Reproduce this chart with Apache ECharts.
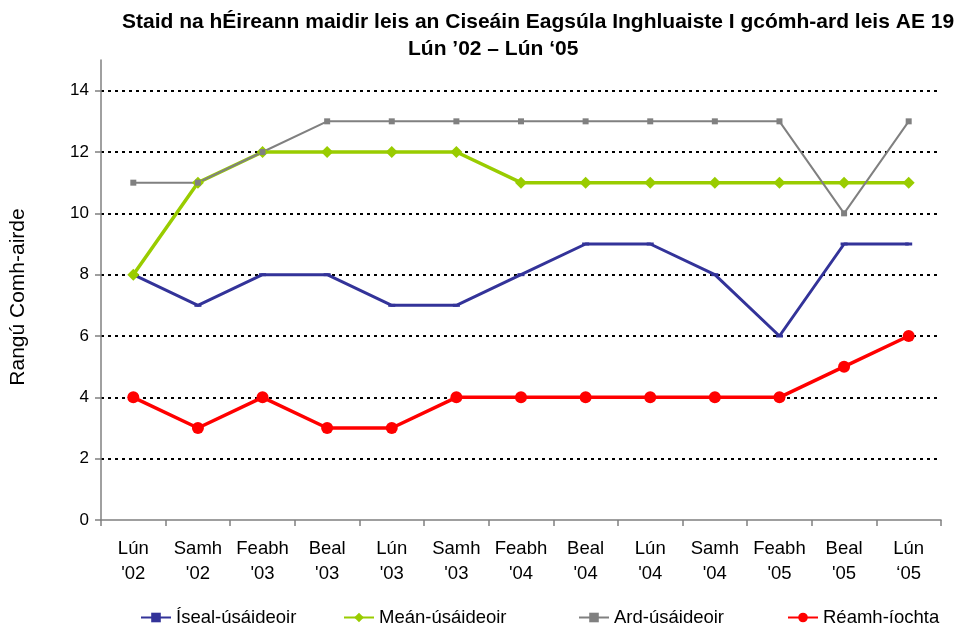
<!DOCTYPE html>
<html>
<head>
<meta charset="utf-8">
<script src="https://cdn.jsdelivr.net/npm/echarts@6/dist/echarts.min.js"></script>
<style>
html, body { margin: 0; padding: 0; background: #fff; }
#chart { width: 958px; height: 628px; }
</style>
</head>
<body>
<div id="chart"></div>
<script>
// miondealú ar chatagóirí agus ar luachanna
var categories = ["Lún\n'02", "Samh\n'02", "Feabh\n'03", "Beal\n'03", "Lún\n'03", "Samh\n'03",
    "Feabh\n'04", "Beal\n'04", "Lún\n'04", "Samh\n'04", "Feabh\n'05", "Beal\n'05", "Lún\n\u201805"];
var seriesNames = ['Íseal-úsáideoir', 'Meán-úsáideoir', 'Ard-úsáideoir', 'Réamh-íochta'];
var iseal = [8, 7, 8, 8, 7, 7, 8, 9, 9, 8, 6, 9, 9];
var mean = [8, 11, 12, 12, 12, 12, 11, 11, 11, 11, 11, 11, 11];
var ard = [11, 11, 12, 13, 13, 13, 13, 13, 13, 13, 13, 10, 13];
var reamh = [4, 3, 4, 3, 3, 4, 4, 4, 4, 4, 4, 5, 6];
var yMin = 0, yMax = 15, yStep = 2;

var font = 'Liberation Sans, Arial, sans-serif';
var legendLefts = [140, 343, 578, 787];

var chart = echarts.init(document.getElementById('chart'));
var option = {
    backgroundColor: '#ffffff',
    animation: false,
    title: [{
        text: 'Staid na hÉireann maidir leis an Ciseáin Eagsúla Inghluaiste I gcómh-ard leis AE 19',
        left: 117,
        top: 7,
        textStyle: { fontFamily: font, fontSize: 21, fontWeight: 'bold', color: '#000' }
    }, {
        text: 'Lún \u201902 \u2013 Lún \u201805',
        left: 403,
        top: 34,
        textStyle: { fontFamily: font, fontSize: 21, fontWeight: 'bold', color: '#000' }
    }],
    // one legend per entry, like the spaced-out columns of the original
    legend: seriesNames.map(function (name, i) {
        return {
            top: 608,
            left: legendLefts[i],
            padding: 0,
            itemWidth: 30,
            itemHeight: 12,
            textStyle: { fontFamily: font, fontSize: 18.5, color: '#000' },
            data: [name]
        };
    }),
    grid: { left: 101, right: 17, top: 60, bottom: 108 },
    xAxis: {
        type: 'category',
        data: categories,
        boundaryGap: true,
        axisLine: { lineStyle: { color: '#808080', width: 1.5 } },
        axisTick: { show: true, length: 6, lineStyle: { color: '#808080', width: 1.5 } },
        axisLabel: {
            interval: 0,
            margin: 16,
            lineHeight: 25,
            fontFamily: font,
            fontSize: 18.5,
            color: '#000'
        }
    },
    yAxis: {
        type: 'value',
        min: yMin,
        max: yMax,
        interval: yStep,
        name: 'Rangú Comh-airde',
        nameLocation: 'middle',
        nameGap: 72,
        nameTextStyle: { fontFamily: font, fontSize: 21, color: '#000', padding: [0, 14, 0, 0] },
        axisLine: { show: true, lineStyle: { color: '#808080', width: 1.5 } },
        axisTick: { show: true, length: 6, lineStyle: { color: '#808080', width: 1.5 } },
        axisLabel: {
            margin: 12,
            fontFamily: font,
            fontSize: 17,
            color: '#000',
            showMaxLabel: false
        },
        splitLine: {
            show: true,
            showMinLine: false,
            showMaxLine: false,
            lineStyle: { color: '#000', width: 2, type: [3, 4] }
        }
    },
    series: [{
        name: seriesNames[0],
        type: 'line',
        data: iseal,
        symbol: 'rect',
        symbolSize: [7, 3],
        lineStyle: { color: '#333399', width: 3 },
        itemStyle: { color: '#333399' }
    }, {
        name: seriesNames[1],
        type: 'line',
        data: mean,
        symbol: 'diamond',
        symbolSize: 12,
        lineStyle: { color: '#99CC00', width: 3.5 },
        itemStyle: { color: '#99CC00' }
    }, {
        name: seriesNames[2],
        type: 'line',
        data: ard,
        symbol: 'rect',
        symbolSize: 6,
        lineStyle: { color: '#808080', width: 2 },
        itemStyle: { color: '#808080' }
    }, {
        name: seriesNames[3],
        type: 'line',
        data: reamh,
        symbol: 'circle',
        symbolSize: 12,
        lineStyle: { color: '#FF0000', width: 3.5 },
        itemStyle: { color: '#FF0000' }
    }]
};
chart.setOption(option);
</script>
</body>
</html>
